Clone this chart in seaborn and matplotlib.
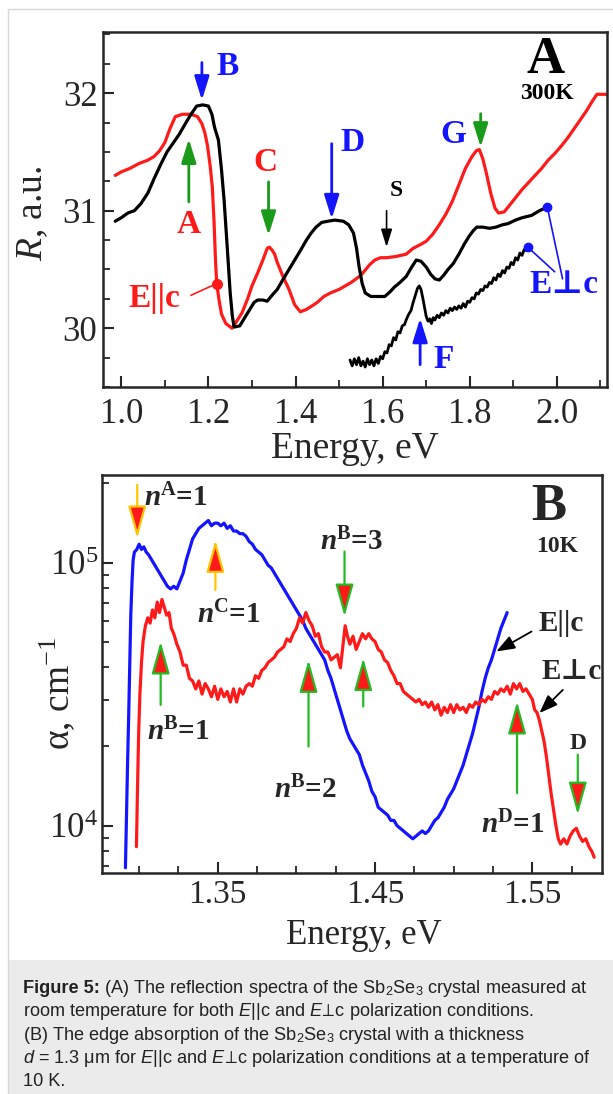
import numpy as np
import matplotlib
matplotlib.use("Agg")
from matplotlib import pyplot as plt
from matplotlib.lines import Line2D
from matplotlib.patches import Rectangle
from matplotlib.ticker import MultipleLocator, FormatStrFormatter, LogLocator, NullFormatter
import seaborn as sns

# ---- panel A: reflection, 300 K ----
par_E = [0.986, 1.000, 1.020, 1.040, 1.061, 1.075, 1.088, 1.100, 1.112, 1.124, 1.140, 1.160, 1.175,
         1.185, 1.192, 1.198, 1.204, 1.209, 1.213, 1.216, 1.219, 1.224, 1.230, 1.240, 1.254, 1.265,
         1.277, 1.290, 1.300, 1.313, 1.325, 1.335, 1.340, 1.347, 1.352, 1.358, 1.370, 1.385, 1.398,
         1.411, 1.425, 1.438, 1.450, 1.465, 1.480, 1.500, 1.528, 1.550, 1.570, 1.582, 1.595, 1.609,
         1.630, 1.654, 1.670, 1.686, 1.700, 1.715, 1.730, 1.745, 1.760, 1.775, 1.790, 1.805, 1.815,
         1.822, 1.830, 1.838, 1.848, 1.858, 1.866, 1.879, 1.890, 1.905, 1.920, 1.935, 1.950, 1.965,
         1.980, 1.996, 2.010, 2.025, 2.040, 2.055, 2.068, 2.081, 2.092, 2.115]
par_R = [31.30, 31.33, 31.36, 31.40, 31.43, 31.46, 31.51, 31.58, 31.70, 31.80, 31.82, 31.82, 31.80,
         31.74, 31.66, 31.55, 31.38, 31.20, 30.90, 30.60, 30.38, 30.25, 30.12, 30.04, 30.00, 30.06,
         30.13, 30.25, 30.36, 30.47, 30.58, 30.68, 30.69, 30.66, 30.63, 30.56, 30.45, 30.33, 30.20,
         30.14, 30.16, 30.19, 30.22, 30.27, 30.30, 30.33, 30.39, 30.45, 30.54, 30.58, 30.60, 30.60,
         30.61, 30.63, 30.68, 30.71, 30.74, 30.80, 30.88, 30.97, 31.08, 31.22, 31.36, 31.46, 31.51,
         31.52, 31.44, 31.32, 31.15, 31.02, 30.98, 30.99, 31.04, 31.11, 31.18, 31.24, 31.30, 31.36,
         31.43, 31.49, 31.55, 31.62, 31.70, 31.78, 31.85, 31.93, 31.99, 31.99]

perp_E = [0.986, 1.000, 1.015, 1.030, 1.045, 1.061, 1.075, 1.090, 1.105, 1.120, 1.133, 1.147, 1.160,
          1.173, 1.187, 1.200, 1.208, 1.214, 1.223, 1.230, 1.236, 1.243, 1.250, 1.255, 1.259, 1.272,
          1.285, 1.295, 1.305, 1.313, 1.325, 1.335, 1.346, 1.358, 1.372, 1.385, 1.398, 1.411, 1.425,
          1.436, 1.447, 1.460, 1.474, 1.490, 1.510, 1.522, 1.533, 1.540, 1.546, 1.553, 1.560, 1.573,
          1.590, 1.605, 1.617, 1.627, 1.640, 1.654, 1.665, 1.677, 1.688, 1.700, 1.710, 1.720, 1.730,
          1.740, 1.750, 1.762, 1.775, 1.788, 1.798, 1.808, 1.816, 1.830, 1.845, 1.860, 1.875, 1.888,
          1.905, 1.920, 1.942, 1.960, 1.978]
perp_R = [30.91, 30.94, 30.98, 31.00, 31.06, 31.15, 31.27, 31.39, 31.50, 31.58, 31.65, 31.74, 31.82,
          31.89, 31.90, 31.89, 31.82, 31.71, 31.60, 31.35, 31.09, 30.70, 30.30, 30.10, 30.01, 30.02,
          30.10, 30.16, 30.22, 30.24, 30.24, 30.23, 30.28, 30.33, 30.42, 30.50, 30.58, 30.66, 30.75,
          30.81, 30.86, 30.90, 30.91, 30.92, 30.91, 30.88, 30.81, 30.68, 30.52, 30.38, 30.30, 30.27,
          30.27, 30.27, 30.31, 30.35, 30.39, 30.44, 30.51, 30.58, 30.57, 30.52, 30.46, 30.42, 30.41,
          30.45, 30.50, 30.55, 30.63, 30.72, 30.78, 30.83, 30.86, 30.86, 30.85, 30.86, 30.88, 30.89,
          30.92, 30.94, 30.96, 31.00, 31.03]

perp2_E = [1.525, 1.530, 1.535, 1.540, 1.545, 1.550, 1.555, 1.560, 1.565, 1.570, 1.575, 1.580, 1.585,
           1.590, 1.595, 1.600, 1.605, 1.610, 1.615, 1.620, 1.625, 1.630, 1.635, 1.640, 1.645, 1.650,
           1.655, 1.660, 1.665, 1.670, 1.675, 1.680, 1.684, 1.688, 1.692, 1.696, 1.700, 1.704, 1.708,
           1.712, 1.716, 1.720, 1.725, 1.730, 1.735, 1.740, 1.745, 1.750, 1.755, 1.760, 1.765, 1.770,
           1.775, 1.780, 1.785, 1.790, 1.795, 1.800, 1.805, 1.810, 1.815, 1.820, 1.825, 1.830, 1.835,
           1.840, 1.845, 1.850, 1.855, 1.860, 1.865, 1.870, 1.875, 1.880, 1.885, 1.890, 1.895, 1.900,
           1.905, 1.910, 1.915, 1.920, 1.925, 1.930, 1.933]
perp2_R = [29.73, 29.68, 29.74, 29.69, 29.75, 29.68, 29.72, 29.67, 29.74, 29.69, 29.73, 29.68, 29.74,
           29.70, 29.76, 29.74, 29.80, 29.79, 29.86, 29.85, 29.92, 29.90, 29.97, 29.96, 30.02, 30.03,
           30.08, 30.12, 30.15, 30.22, 30.28, 30.34, 30.36, 30.33, 30.26, 30.18, 30.10, 30.06, 30.08,
           30.04, 30.09, 30.07, 30.11, 30.09, 30.13, 30.11, 30.15, 30.13, 30.17, 30.15, 30.18, 30.16,
           30.19, 30.17, 30.21, 30.18, 30.23, 30.22, 30.26, 30.25, 30.30, 30.29, 30.33, 30.32, 30.36,
           30.35, 30.39, 30.38, 30.43, 30.41, 30.46, 30.44, 30.49, 30.47, 30.52, 30.51, 30.56, 30.54,
           30.60, 30.58, 30.64, 30.62, 30.67, 30.66, 30.69]

# ---- panel B: absorption, 10 K (log10 of alpha in cm^-1) ----
abs_par_E = [1.2913, 1.2920, 1.2927, 1.2933, 1.2940, 1.2947, 1.2955, 1.2962, 1.2970, 1.2985, 1.3000,
             1.3015, 1.3030, 1.3045, 1.3060, 1.3080, 1.3100, 1.3120, 1.3140, 1.3160, 1.3180, 1.3200,
             1.3220, 1.3240, 1.3260, 1.3280, 1.3300, 1.3320, 1.3340, 1.3360, 1.3380, 1.3400, 1.3420,
             1.3440, 1.3460, 1.3480, 1.3500, 1.3520, 1.3540, 1.3560, 1.3580, 1.3600, 1.3620, 1.3640,
             1.3660, 1.3680, 1.3700, 1.3720, 1.3740, 1.3760, 1.3780, 1.3800, 1.3820, 1.3840, 1.3860,
             1.3880, 1.3900, 1.3920, 1.3940, 1.3960, 1.3980, 1.4000, 1.4020, 1.4040, 1.4060, 1.4080,
             1.4100, 1.4120, 1.4140, 1.4160, 1.4180, 1.4200, 1.4220, 1.4240, 1.4260, 1.4280, 1.4300,
             1.4320, 1.4340, 1.4360, 1.4380, 1.4400, 1.4420, 1.4440, 1.4460, 1.4480, 1.4500, 1.4520,
             1.4540, 1.4560, 1.4580, 1.4600, 1.4620, 1.4640, 1.4660, 1.4680, 1.4700, 1.4720, 1.4740,
             1.4760, 1.4780, 1.4800, 1.4820, 1.4840, 1.4860, 1.4880, 1.4900, 1.4920, 1.4940, 1.4960,
             1.4980, 1.5000, 1.5020, 1.5040, 1.5060, 1.5080, 1.5100, 1.5120, 1.5140, 1.5160, 1.5180,
             1.5200, 1.5220, 1.5240, 1.5260, 1.5280, 1.5300, 1.5320, 1.5340]
abs_par_log = [3.84, 4.05, 4.25, 4.40, 4.60, 4.80, 4.93, 5.01, 5.04, 5.05, 5.07,
               5.05, 5.06, 5.04, 5.03, 5.01, 4.99, 4.97, 4.95, 4.93, 4.91, 4.90,
               4.91, 4.90, 4.93, 4.96, 5.01, 5.05, 5.09, 5.11, 5.13, 5.14, 5.15,
               5.16, 5.14, 5.15, 5.15, 5.14, 5.15, 5.13, 5.14, 5.12, 5.12, 5.11,
               5.11, 5.10, 5.08, 5.07, 5.05, 5.04, 5.03, 5.01, 4.99, 4.98, 4.96,
               4.94, 4.92, 4.90, 4.88, 4.86, 4.84, 4.82, 4.80, 4.78, 4.75, 4.73,
               4.71, 4.69, 4.67, 4.65, 4.63, 4.59, 4.56, 4.52, 4.48, 4.44, 4.40,
               4.36, 4.33, 4.31, 4.29, 4.27, 4.23, 4.20, 4.17, 4.13, 4.11, 4.07,
               4.06, 4.05, 4.04, 4.02, 4.02, 4.00, 3.99, 3.98, 3.97, 3.96, 3.95,
               3.96, 3.97, 3.98, 3.97, 3.98, 4.00, 4.02, 4.03, 4.05, 4.07, 4.10,
               4.12, 4.14, 4.17, 4.20, 4.23, 4.27, 4.31, 4.35, 4.40, 4.45, 4.51,
               4.56, 4.60, 4.63, 4.67, 4.71, 4.75, 4.78, 4.81]

abs_perp_E = [1.2983, 1.2990, 1.2997, 1.3005, 1.3015, 1.3025, 1.3040, 1.3055, 1.3070, 1.3085, 1.3100,
              1.3115, 1.3130, 1.3145, 1.3160, 1.3175, 1.3190, 1.3205, 1.3220, 1.3240, 1.3260, 1.3280,
              1.3300, 1.3320, 1.3340, 1.3360, 1.3380, 1.3400, 1.3420, 1.3440, 1.3460, 1.3480, 1.3500,
              1.3520, 1.3540, 1.3560, 1.3580, 1.3600, 1.3620, 1.3640, 1.3660, 1.3680, 1.3700, 1.3720,
              1.3740, 1.3760, 1.3780, 1.3800, 1.3820, 1.3840, 1.3860, 1.3880, 1.3900, 1.3920, 1.3940,
              1.3960, 1.3980, 1.4000, 1.4020, 1.4040, 1.4060, 1.4080, 1.4100, 1.4120, 1.4140, 1.4160,
              1.4180, 1.4200, 1.4220, 1.4240, 1.4260, 1.4280, 1.4295, 1.4310, 1.4325, 1.4340, 1.4360,
              1.4380, 1.4400, 1.4420, 1.4440, 1.4460, 1.4480, 1.4500, 1.4520, 1.4540, 1.4560, 1.4580,
              1.4600, 1.4620, 1.4640, 1.4660, 1.4680, 1.4700, 1.4720, 1.4740, 1.4760, 1.4780, 1.4800,
              1.4820, 1.4840, 1.4860, 1.4880, 1.4900, 1.4920, 1.4940, 1.4960, 1.4980, 1.5000, 1.5020,
              1.5040, 1.5060, 1.5080, 1.5100, 1.5120, 1.5140, 1.5160, 1.5180, 1.5200, 1.5220, 1.5240,
              1.5260, 1.5280, 1.5300, 1.5320, 1.5340, 1.5360, 1.5380, 1.5400, 1.5420, 1.5440, 1.5460,
              1.5480, 1.5500, 1.5515, 1.5530, 1.5545, 1.5560, 1.5575, 1.5590, 1.5605, 1.5620, 1.5635,
              1.5650, 1.5665, 1.5680, 1.5700, 1.5720, 1.5740, 1.5760, 1.5780, 1.5800, 1.5820, 1.5840,
              1.5860, 1.5880, 1.5893]
abs_perp_log = [3.92, 4.15, 4.35, 4.50, 4.62, 4.70, 4.76, 4.79, 4.77, 4.82, 4.79,
                4.85, 4.81, 4.86, 4.83, 4.80, 4.81, 4.75, 4.73, 4.69, 4.66, 4.61,
                4.61, 4.56, 4.55, 4.52, 4.55, 4.50, 4.54, 4.52, 4.49, 4.53, 4.48,
                4.52, 4.49, 4.51, 4.47, 4.52, 4.47, 4.52, 4.50, 4.53, 4.54, 4.53,
                4.57, 4.56, 4.59, 4.60, 4.62, 4.63, 4.64, 4.66, 4.67, 4.68, 4.71,
                4.70, 4.73, 4.75, 4.79, 4.77, 4.81, 4.78, 4.76, 4.72, 4.73, 4.68,
                4.66, 4.66, 4.63, 4.64, 4.65, 4.60, 4.68, 4.76, 4.72, 4.69, 4.72,
                4.67, 4.70, 4.73, 4.71, 4.73, 4.71, 4.70, 4.67, 4.66, 4.63, 4.62,
                4.59, 4.57, 4.54, 4.54, 4.51, 4.50, 4.49, 4.48, 4.47, 4.48, 4.46,
                4.47, 4.45, 4.47, 4.44, 4.46, 4.42, 4.45, 4.43, 4.46, 4.43, 4.46,
                4.44, 4.45, 4.43, 4.46, 4.45, 4.47, 4.46, 4.48, 4.47, 4.49, 4.48,
                4.51, 4.50, 4.52, 4.51, 4.53, 4.50, 4.54, 4.52, 4.54, 4.51, 4.52,
                4.50, 4.48, 4.44, 4.43, 4.40, 4.36, 4.32, 4.26, 4.19, 4.12, 4.06,
                4.00, 3.95, 3.93, 3.95, 3.93, 3.96, 3.98, 3.99, 3.96, 3.94, 3.95,
                3.92, 3.90, 3.88]

xticks_A = [1.0, 1.2, 1.4, 1.6, 1.8, 2.0]
yticks_A = [30, 31, 32]
xticks_B = [1.35, 1.45, 1.55]

caption_head = "Figure 5:"
caption_lines = [
    r"(A) The reflection spectra of the Sb$_\mathsf{2}$Se$_\mathsf{3}$ crystal measured at",
    r"room temperature for both $\mathcal{E}$||c and $\mathcal{E}\!{\perp}\!$c polarization conditions.",
    r"(B) The edge absorption of the Sb$_\mathsf{2}$Se$_\mathsf{3}$ crystal with a thickness",
    r"$\mathcal{d}$ = 1.3 μm for $\mathcal{E}$||c and $\mathcal{E}\!{\perp}\!$c polarization conditions at a temperature of",
    "10 K.",
]

sns.set_style("ticks")
plt.rcParams['font.family'] = ['Liberation Serif', 'DejaVu Serif']
plt.rcParams['mathtext.fontset'] = 'custom'
plt.rcParams['mathtext.rm'] = 'Liberation Serif'
plt.rcParams['mathtext.it'] = 'Liberation Serif:italic'
plt.rcParams['mathtext.bf'] = 'Liberation Serif:bold'
plt.rcParams['mathtext.bfit'] = 'Liberation Serif:italic:bold'
plt.rcParams['mathtext.sf'] = 'Liberation Sans'
plt.rcParams['mathtext.cal'] = 'Liberation Sans:italic'
plt.rcParams['mathtext.fallback'] = 'stixsans'

RED = '#ff1a1a'
BLUE = '#1414ff'
GREEN = '#1a9a1a'

fig = plt.figure(figsize=(6.13, 10.94), dpi=100)

# page decoration: frame and caption box
fig.add_artist(Rectangle((9 / 613, 0), 1, 134 / 1094, transform=fig.transFigure,
                         fc='#ebebeb', ec='none', zorder=0))
fig.add_artist(Line2D([8 / 613, 8 / 613], [0, 1 - 9 / 1094], transform=fig.transFigure,
                      color='#d8d8d8', lw=1))
fig.add_artist(Line2D([8 / 613, 1], [1 - 9 / 1094, 1 - 9 / 1094], transform=fig.transFigure,
                      color='#d8d8d8', lw=1))

axA = fig.add_axes([103 / 613, 1 - 387 / 1094, 504 / 613, 355 / 1094])
axB = fig.add_axes([102 / 613, 1 - 873 / 1094, 500 / 613, 398 / 1094])


def arrow(ax, x, y0, y1, fc, ec, lw=2.0, hl=0.9, hw=0.28, ms=20):
    ax.annotate("", xy=(x, y1), xytext=(x, y0),
                arrowprops=dict(arrowstyle=f"-|>,head_length={hl},head_width={hw}",
                                fc=fc, ec=ec, lw=lw, mutation_scale=ms,
                                shrinkA=0, shrinkB=0))


def connector(ax, xy_from, xy_to, color, lw=1.2):
    ax.annotate("", xy=xy_to, xytext=xy_from,
                arrowprops=dict(arrowstyle="-", color=color, lw=lw, shrinkA=0, shrinkB=0))


# ---------------- panel A ----------------
sns.lineplot(x=par_E, y=par_R, ax=axA, color=RED, lw=2.3, estimator=None, sort=False)
sns.lineplot(x=perp_E, y=perp_R, ax=axA, color='black', lw=2.3, estimator=None, sort=False)
sns.lineplot(x=perp2_E, y=perp2_R, ax=axA, color='black', lw=2.0, estimator=None, sort=False)

# marker dots on the curves
axA.plot(par_E[20], par_R[20], 'o', color=RED, ms=7)
axA.plot(perp_E[-1], perp_R[-1], 'o', color=BLUE, ms=6)
axA.plot(perp2_E[-1], perp2_R[-1], 'o', color=BLUE, ms=6)

axA.set_xlim(0.958, 2.115)
axA.set_ylim(29.5, 32.52)
axA.xaxis.set_major_locator(plt.FixedLocator(xticks_A))
axA.xaxis.set_major_formatter(FormatStrFormatter('%.1f'))
axA.xaxis.set_minor_locator(MultipleLocator(0.1))
axA.yaxis.set_major_locator(plt.FixedLocator(yticks_A))
axA.yaxis.set_major_formatter(FormatStrFormatter('%d'))
axA.yaxis.set_minor_locator(MultipleLocator(0.25))
axA.set_xlabel("Energy, eV", fontsize=27)
axA.set_ylabel(r"$\mathit{R}$, a.u.", fontsize=27)
axA.xaxis.set_label_coords(0.5, -0.125)
axA.yaxis.set_label_coords(-0.105, 0.49)

tsA = 24
axA.text(1.155, 30.885, "A", color=RED, fontsize=tsA, fontweight='bold', ha='center', va='center')
axA.text(1.245, 32.23, "B", color=BLUE, fontsize=tsA, fontweight='bold', ha='center', va='center')
axA.text(1.331, 31.41, "C", color=RED, fontsize=tsA, fontweight='bold', ha='center', va='center')
axA.text(1.530, 31.58, "D", color=BLUE, fontsize=tsA, fontweight='bold', ha='center', va='center')
axA.text(1.632, 31.17, "S", color='black', fontsize=17, fontweight='bold', ha='center', va='center')
axA.text(1.762, 31.65, "G", color=BLUE, fontsize=tsA, fontweight='bold', ha='center', va='center')
axA.text(1.740, 29.73, "F", color=BLUE, fontsize=tsA, fontweight='bold', ha='center', va='center')
axA.text(1.076, 30.25, "E||c", color=RED, fontsize=tsA, fontweight='bold', ha='center', va='center')
axA.text(2.017, 30.37, "E⊥c", color=BLUE, fontsize=tsA, fontweight='bold', ha='center', va='center')
axA.text(1.975, 32.28, "A", color='black', fontsize=38, fontweight='bold', ha='center', va='center')
axA.text(1.977, 32.0, "300K", color='black', fontsize=17, fontweight='bold', ha='center', va='center')

arrow(axA, 1.155, 31.075, 31.61, GREEN, GREEN, ms=16)
arrow(axA, 1.185, 32.26, 31.94, BLUE, BLUE, ms=16)
arrow(axA, 1.338, 31.245, 30.79, GREEN, GREEN, ms=16)
arrow(axA, 1.483, 31.57, 30.93, BLUE, BLUE, ms=16)
arrow(axA, 1.609, 31.0, 30.69, 'black', 'black', lw=1.2, ms=12)
arrow(axA, 1.825, 31.825, 31.54, GREEN, GREEN, ms=16)
arrow(axA, 1.686, 29.69, 30.085, BLUE, BLUE, ms=16)

connector(axA, (1.160, 30.28), (par_E[20], par_R[20]), RED)
connector(axA, (2.013, 30.42), (perp_E[-1], perp_R[-1]), BLUE)
connector(axA, (1.995, 30.48), (perp2_E[-1], perp2_R[-1]), BLUE)

# ---------------- panel B ----------------
axB.set_yscale('log')
sns.lineplot(x=abs_par_E, y=10 ** np.array(abs_par_log), ax=axB, color=BLUE, lw=2.3,
             estimator=None, sort=False)
sns.lineplot(x=abs_perp_E, y=10 ** np.array(abs_perp_log), ax=axB, color=RED, lw=2.3,
             estimator=None, sort=False)

axB.set_xlim(1.2764, 1.5943)
axB.set_ylim(10 ** 3.82, 10 ** 5.333)
axB.xaxis.set_major_locator(plt.FixedLocator(xticks_B))
axB.xaxis.set_major_formatter(FormatStrFormatter('%.2f'))
axB.xaxis.set_minor_locator(MultipleLocator(0.025))
axB.yaxis.set_major_locator(LogLocator(base=10))
axB.yaxis.set_minor_locator(LogLocator(base=10, subs=np.arange(2, 10)))
axB.yaxis.set_minor_formatter(NullFormatter())
axB.set_xlabel("Energy, eV", fontsize=25)
axB.set_ylabel(r"α, cm$^{\mathrm{-1}}$", fontsize=27)
axB.xaxis.set_label_coords(0.524, -0.116)
axB.yaxis.set_label_coords(-0.05, 0.45)


def lg(v):
    return 10 ** v


tsB = 21
axB.text(1.3032, lg(5.213), r"$\mathbfit{n}^{\mathbf{A}}$=1", fontsize=tsB, fontweight='bold',
         ha='left', va='baseline')
axB.text(1.3368, lg(4.770), r"$\mathbfit{n}^{\mathbf{C}}$=1", fontsize=tsB, fontweight='bold',
         ha='left', va='baseline')
axB.text(1.3052, lg(4.324), r"$\mathbfit{n}^{\mathbf{B}}$=1", fontsize=tsB, fontweight='bold',
         ha='left', va='baseline')
axB.text(1.3858, lg(4.105), r"$\mathbfit{n}^{\mathbf{B}}$=2", fontsize=tsB, fontweight='bold',
         ha='left', va='baseline')
axB.text(1.4147, lg(5.046), r"$\mathbfit{n}^{\mathbf{B}}$=3", fontsize=tsB, fontweight='bold',
         ha='left', va='baseline')
axB.text(1.5172, lg(3.972), r"$\mathbfit{n}^{\mathbf{D}}$=1", fontsize=tsB, fontweight='bold',
         ha='left', va='baseline')
axB.text(1.5793, lg(4.314), "D", fontsize=17, fontweight='bold', ha='center', va='center')
axB.text(1.554, lg(4.770), "E||c", fontsize=21, fontweight='bold', ha='left', va='center')
axB.text(1.5557, lg(4.586), "E⊥c", fontsize=21, fontweight='bold', ha='left', va='center')
axB.text(1.5607, lg(5.213), "B", fontsize=38, fontweight='bold', ha='center', va='center')
axB.text(1.5657, lg(5.063), "10K", fontsize=17, fontweight='bold', ha='center', va='center')

YEL = '#ffc400'
arrow(axB, 1.2988, lg(5.295), lg(5.092), RED, YEL, lw=1.6, hl=1.0, hw=0.28, ms=20)
arrow(axB, 1.3485, lg(4.896), lg(5.086), RED, YEL, lw=1.6, hl=1.0, hw=0.28, ms=20)
arrow(axB, 1.3137, lg(4.459), lg(4.70), RED, '#22bb22', lw=1.6, hl=1.0, hw=0.28, ms=20)
arrow(axB, 1.4077, lg(4.301), lg(4.630), RED, '#22bb22', lw=1.6, hl=1.0, hw=0.28, ms=20)
arrow(axB, 1.4306, lg(5.042), lg(4.795), RED, '#22bb22', lw=1.6, hl=1.0, hw=0.28, ms=20)
arrow(axB, 1.4425, lg(4.453), lg(4.637), RED, '#22bb22', lw=1.6, hl=1.0, hw=0.28, ms=20)
arrow(axB, 1.5403, lg(4.124), lg(4.472), RED, '#22bb22', lw=1.6, hl=1.0, hw=0.28, ms=20)
arrow(axB, 1.5789, lg(4.270), lg(4.042), RED, '#22bb22', lw=1.6, hl=1.0, hw=0.28, ms=20)

axB.annotate("", xy=(1.5271, lg(4.662)), xytext=(1.5495, lg(4.738)),
             arrowprops=dict(arrowstyle="-|>,head_length=0.8,head_width=0.3", fc='black', ec='black',
                             lw=1.3, mutation_scale=14, shrinkA=0, shrinkB=0))
axB.annotate("", xy=(1.5545, lg(4.428)), xytext=(1.5694, lg(4.516)),
             arrowprops=dict(arrowstyle="-|>,head_length=0.8,head_width=0.3", fc='black', ec='black',
                             lw=1.3, mutation_scale=14, shrinkA=0, shrinkB=0))

for ax in (axA, axB):
    for s in ax.spines.values():
        s.set_linewidth(1.8)
        s.set_visible(True)
    ax.tick_params(which='major', direction='in', length=8, width=1.5, labelsize=25)
    ax.tick_params(which='minor', direction='in', length=5, width=1.3)
axA.tick_params(axis='x', which='major', pad=8)
axA.tick_params(axis='y', which='major', pad=4)
axB.tick_params(axis='x', which='major', pad=5, labelsize=24)
axB.tick_params(axis='y', which='major', pad=3)

# caption
cap_font = dict(fontsize=13.1, family=['Liberation Sans', 'DejaVu Sans'], color='#222222')
for i, line in enumerate(caption_lines):
    y = 1 - (993 + 23.3 * i) / 1094
    if i == 0:
        head = fig.text(23 / 613, y, caption_head, fontweight='bold', ha='left', va='baseline',
                        **cap_font)
        fig.canvas.draw()
        x0 = head.get_window_extent().x1 / fig.bbox.width + 4 / 613
        fig.text(x0, y, line, ha='left', va='baseline', **cap_font)
    else:
        fig.text(23 / 613, y, line, ha='left', va='baseline', **cap_font)

fig.savefig("out.png", dpi=100)
